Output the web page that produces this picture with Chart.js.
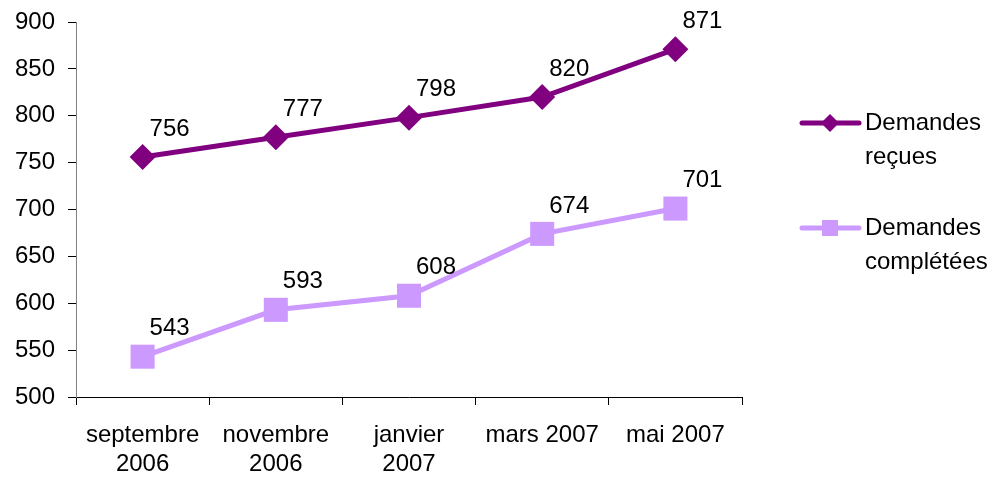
<!DOCTYPE html>
<html>
<head>
<meta charset="utf-8">
<script src="https://cdn.jsdelivr.net/npm/chart.js@4"></script>
<style>
  html, body { margin: 0; padding: 0; background: #fff; }
  #wrap { width: 1000px; height: 478px; }
</style>
</head>
<body>
<div id="wrap"><canvas id="chart"></canvas></div>
<script>
// Data
const months = [['septembre', '2006'], ['novembre', '2006'], ['janvier', '2007'], 'mars 2007', 'mai 2007'];
const recues = [756, 777, 798, 820, 871];
const completees = [543, 593, 608, 674, 701];
const seriesNames = [['Demandes', 'reçues'], ['Demandes', 'complétées']];

const FONT = "'Liberation Sans', Arial, sans-serif";
const DARK = '#800080';
const LIGHT = '#CC99FF';

// value labels next to each point
const valueLabels = {
  id: 'valueLabels',
  afterDatasetsDraw(chart) {
    const ctx = chart.ctx;
    ctx.save();
    ctx.font = '24px ' + FONT;
    ctx.fillStyle = '#000';
    ctx.textAlign = 'left';
    ctx.textBaseline = 'middle';
    chart.data.datasets.forEach((ds, i) => {
      chart.getDatasetMeta(i).data.forEach((pt, j) => {
        ctx.fillText(ds.data[j], pt.x + 7, pt.y - 28);
      });
    });
    ctx.restore();
  }
};

// legend on the right, two-line names
const sideLegend = {
  id: 'sideLegend',
  afterDraw(chart) {
    const ctx = chart.ctx;
    const rows = [123, 228];
    ctx.save();
    chart.data.datasets.forEach((ds, i) => {
      const y = rows[i];
      ctx.strokeStyle = ds.borderColor;
      ctx.lineWidth = 5;
      ctx.lineCap = 'round';
      ctx.beginPath();
      ctx.moveTo(802, y);
      ctx.lineTo(859, y);
      ctx.stroke();
      ctx.fillStyle = ds.backgroundColor;
      ctx.beginPath();
      if (ds.pointStyle === 'rectRot') {
        ctx.moveTo(830 - 9, y);
        ctx.lineTo(830, y - 9);
        ctx.lineTo(830 + 9, y);
        ctx.lineTo(830, y + 9);
        ctx.closePath();
      } else {
        ctx.rect(830 - 8, y - 8, 16, 16);
      }
      ctx.fill();
      ctx.fillStyle = '#000';
      ctx.font = '24px ' + FONT;
      ctx.textAlign = 'left';
      ctx.textBaseline = 'middle';
      seriesNames[i].forEach((line, k) => ctx.fillText(line, 865, y + k * 34));
    });
    ctx.restore();
  }
};

new Chart(document.getElementById('chart'), {
  type: 'line',
  data: {
    labels: months,
    datasets: [
      {
        label: 'Demandes reçues',
        data: recues,
        borderColor: DARK,
        backgroundColor: DARK,
        borderWidth: 5,
        pointStyle: 'rectRot',
        pointRadius: 13,
        pointBorderWidth: 0,
        tension: 0
      },
      {
        label: 'Demandes complétées',
        data: completees,
        borderColor: LIGHT,
        backgroundColor: LIGHT,
        borderWidth: 5,
        pointStyle: 'rect',
        pointRadius: 17,
        pointBorderWidth: 0,
        tension: 0
      }
    ]
  },
  options: {
    responsive: true,
    maintainAspectRatio: false,
    animation: false,
    layout: { padding: { top: 22, right: 258, left: 0, bottom: 0 } },
    plugins: {
      legend: { display: false },
      tooltip: { enabled: false }
    },
    scales: {
      x: {
        offset: true,
        grid: { offset: true, drawOnChartArea: false, tickLength: 8, color: '#000' },
        border: { color: '#000', width: 1 },
        ticks: {
          color: '#000',
          font: { family: FONT, size: 24, lineHeight: 1.2 },
          padding: 16,
          maxRotation: 0,
          autoSkip: false
        },
        afterFit: s => { s.height = 81; s.paddingLeft = 0; s.paddingRight = 0; }
      },
      y: {
        min: 500,
        max: 900,
        grid: { drawOnChartArea: false, tickLength: 8, color: '#000' },
        border: { color: '#808080', width: 1 },
        ticks: {
          stepSize: 50,
          color: '#000',
          font: { family: FONT, size: 24 },
          padding: 13
        },
        afterFit: s => { s.width = 76; s.paddingTop = 0; s.paddingBottom = 0; }
      }
    }
  },
  plugins: [valueLabels, sideLegend]
});
</script>
</body>
</html>
